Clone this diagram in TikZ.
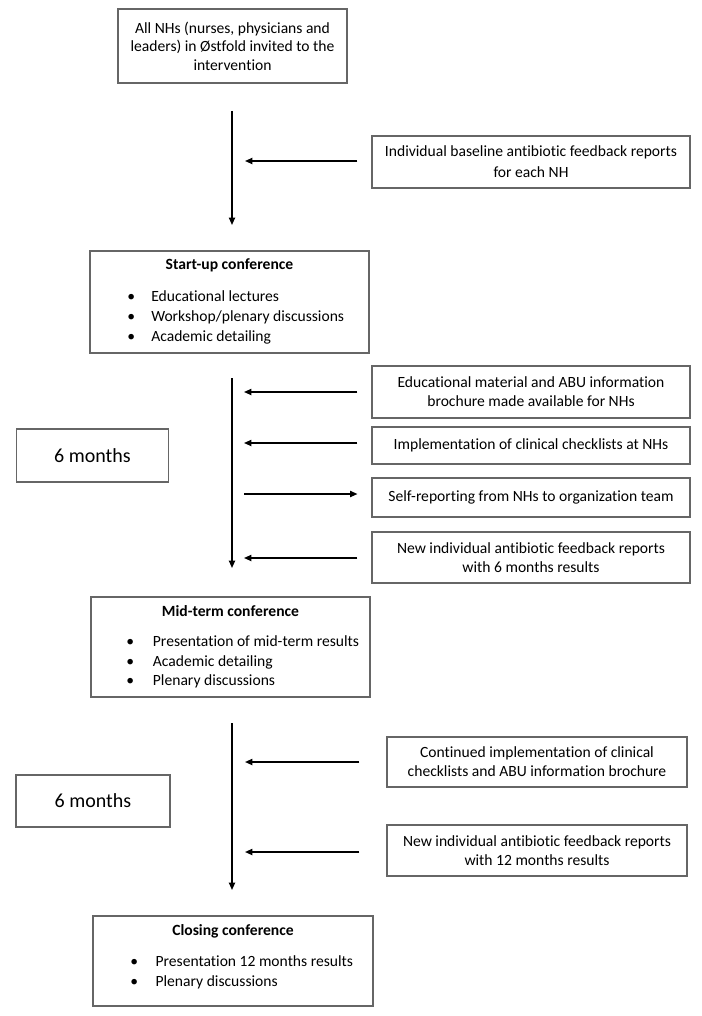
\documentclass[tikz,border=0pt]{standalone}
\usepackage{fontspec}
\setmainfont{Carlito}[Ligatures=NoCommon]
\usetikzlibrary{arrows.meta,calc}
\newcommand\bodyfont{\fontsize{11.7}{14.25}\selectfont}
\newcommand\topfont{\fontsize{11.7}{13.9}\selectfont}
\newcommand\bigfont{\fontsize{15}{17}\selectfont}
\begin{document}
\begin{tikzpicture}[x=0.75pt,y=-0.75pt,
  sz/.style 2 args={minimum width={#1*0.75pt}, minimum height={#2*0.75pt}},
  box/.style={draw=black!60, line width=0.8pt, inner sep=0pt, align=center, font=\bodyfont},
  monthbox/.style={box, font=\bigfont},
  title/.style={anchor=mid, inner sep=0pt, font=\bodyfont\bfseries},
  item/.style={anchor=mid west, inner sep=0pt, font=\bodyfont},
  arr/.style={line width=1.1pt, -{Triangle[length=5.5pt,width=4.6pt]}}
]
\useasboundingbox (0,0) rectangle (702,1016);

% top box
\node[box, font=\topfont, sz={229}{74}] (n1) at (232.5,46) {All NHs (nurses, physicians and\\leaders) in Østfold invited to the\\intervention};

% first phase
\coordinate (v1s) at (232,111);
\coordinate (v1e) at (232,225);
\draw[arr] (v1s) -- (v1e);
\node[box, sz={318}{52}] (base) at (531,162) {Individual baseline antibiotic feedback reports\\[1.5pt]for each NH};
\coordinate (base-end) at (245,161);
\draw[arr] ($(base.west)+(-14,-1)$) -- (base-end);

% start-up conference
\node[box, sz={279}{102}] (su) at (229.5,302) {};
\node[title] (sut) at (229.5,266) {Start-up conference};
\node[item] (su1) at (127,298) {\makebox[18pt][l]{\textbullet}Educational lectures};
\node[item] (su2) at (127,318) {\makebox[18pt][l]{\textbullet}Workshop/plenary discussions};
\node[item] (su3) at (127,338) {\makebox[18pt][l]{\textbullet}Academic detailing};

% second phase
\coordinate (v2s) at (232,378);
\coordinate (v2e) at (232,568);
\draw[arr] (v2s) -- (v2e);
\node[monthbox, sz={152}{53}] (m1) at (92.5,455.5) {6 months};
\node[box, sz={318}{52}] (eA) at (531,392) {Educational material and ABU information\\brochure made available for NHs};
\node[box, sz={318}{37}] (eB) at (531,445.5) {Implementation of clinical checklists at NHs};
\node[box, sz={318}{39}] (eC) at (531,497.5) {Self-reporting from NHs to organization team};
\node[box, sz={318}{51}] (eD) at (531,557.5) {New individual antibiotic feedback reports\\with 6 months results};
\coordinate (eA-end) at (244,392);
\coordinate (eB-end) at (244,443);
\coordinate (eC-start) at (244,494);
\coordinate (eD-end) at (244,558);
\draw[arr] ($(eA.west)+(-14,0)$) -- (eA-end);
\draw[arr] ($(eB.west)+(-14,-2.5)$) -- (eB-end);
\draw[arr] (eC-start) -- ($(eC.west)+(-14,-3.5)$);
\draw[arr] ($(eD.west)+(-14,0.5)$) -- (eD-end);

% mid-term conference
\node[box, sz={279}{100}] (mt) at (230.5,647) {};
\node[title] (mtt) at (230.5,613) {Mid-term conference};
\node[item] (mt1) at (126,643) {\makebox[20pt][l]{\textbullet}Presentation of mid-term results};
\node[item] (mt2) at (126,663) {\makebox[20pt][l]{\textbullet}Academic detailing};
\node[item] (mt3) at (126,682) {\makebox[20pt][l]{\textbullet}Plenary discussions};

% third phase
\coordinate (v3s) at (232,723);
\coordinate (v3e) at (232,890);
\draw[arr] (v3s) -- (v3e);
\node[monthbox, sz={154}{52}] (m2) at (93,801) {6 months};
\node[box, sz={300}{50}] (eE) at (537,762) {Continued implementation of clinical\\checklists and ABU information brochure};
\node[box, sz={300}{51}] (eF) at (537,850.5) {New individual antibiotic feedback reports\\with 12 months results};
\coordinate (eE-end) at (245,762);
\coordinate (eF-end) at (245,852);
\draw[arr] ($(eE.west)+(-27,0)$) -- (eE-end);
\draw[arr] ($(eF.west)+(-27,1.5)$) -- (eF-end);

% closing conference
\node[box, sz={280}{90}] (cl) at (233,961) {};
\node[title] (clt) at (233,932) {Closing conference};
\node[item] (cl1) at (130,963) {\makebox[19pt][l]{\textbullet}Presentation 12 months results};
\node[item] (cl2) at (130,983) {\makebox[19pt][l]{\textbullet}Plenary discussions};
\end{tikzpicture}
\end{document}
